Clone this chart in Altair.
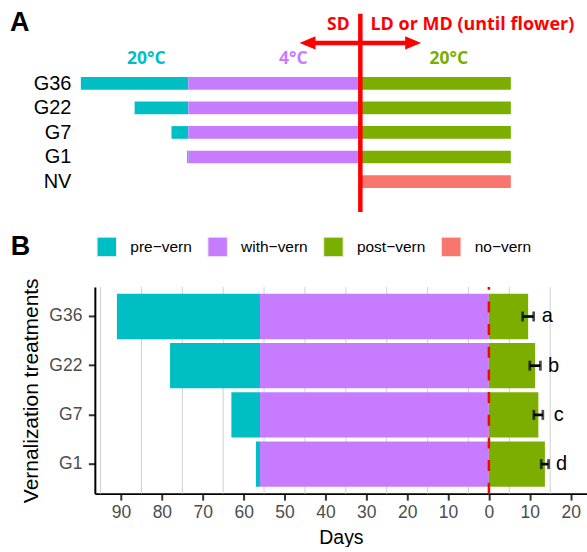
import json
import altair as alt
import pandas as pd

# ---------------- data ----------------
# Panel A (schematic of the treatments)
a_rows = ["G36", "G22", "G7", "G1", "NV"]
a_pre = [35, 17.5, 5.5, 0.4, 0]      # schematic pre-vernalization length
a_vern = [56, 56, 56, 56, 0]         # cold period
a_post = [49, 49, 49, 49, 0]         # warm period after cold
a_novern = [0, 0, 0, 0, 49]          # no vernalization

# Panel B (measured days)
b_trt = ["G36", "G22", "G7", "G1"]
b_pre = [35, 22, 7, 1]
b_vern = [56, 56, 56, 56]
b_post = [9.6, 11.3, 12.1, 13.7]
b_err = [1.35, 1.3, 1.1, 0.9]
b_letters = ["a", "b", "c", "d"]
b_letter_x = [14.3, 15.8, 17.1, 17.8]

phases = ["pre\u2212vern", "with\u2212vern", "post\u2212vern", "no\u2212vern"]
phase_colors = ["#00BFC4", "#C77CFF", "#7CAE00", "#F8766D"]

x_ticks = [-90, -80, -70, -60, -50, -40, -30, -20, -10, 0, 10, 20]
x_minor_grid = [-95, -85, -75, -65, -55, -45, -35, -25, -15, -5, 5, 15]

# annotations of panel A (schematic units)
a_note_text = ["SD", "20\u00b0C", "4\u00b0C", "20\u00b0C"]
a_note_x = [-7.15, -69.7, -21.8, 28.8]
a_note_y = [-2.39, -0.976, -0.976, -0.976]
a_note_color = ["#FF0000", "#00BFC4", "#C77CFF", "#7CAE00"]
a_note_left_text = ["LD or MD (until flower)"]
a_note_left_x = [3.3]
a_note_left_y = [-2.39]
a_arrow_x = [-17.2, 17.2]
a_arrow_y = -1.646
a_line_y = [-2.833, 5.244]

FONT = "Liberation Sans"
BOLD = "Open Sans"
RED = "#FF0000"

# ---------------- panel A ----------------
seg = []
for i, r in enumerate(a_rows):
    if a_pre[i] > 0:
        seg.append(dict(y=i, x=-(a_vern[i] + a_pre[i]), x2=-a_vern[i], col=phase_colors[0]))
    if a_vern[i] > 0:
        seg.append(dict(y=i, x=-a_vern[i], x2=0, col=phase_colors[1]))
    if a_post[i] > 0:
        seg.append(dict(y=i, x=0, x2=a_post[i], col=phase_colors[2]))
    if a_novern[i] > 0:
        seg.append(dict(y=i, x=0, x2=a_novern[i], col=phase_colors[3]))
seg_a = pd.DataFrame(seg)

xa = alt.X("x:Q", scale=alt.Scale(domain=[-86.45, 73.8], nice=False, zero=False), axis=None)
ya = alt.Y(
    "y:Q",
    scale=alt.Scale(domain=[-3.374, 5.244], reverse=True, nice=False, zero=False),
    axis=alt.Axis(
        values=list(range(len(a_rows))),
        labelExpr=json.dumps(a_rows) + "[datum.value]",
        title=None, domain=False, ticks=False, grid=False,
        labelPadding=24, labelFontSize=20, labelColor="black", labelFont=FONT,
    ),
)

bars_a = alt.Chart(seg_a).mark_rule(strokeWidth=12.7, strokeCap="butt").encode(
    x=xa, x2="x2:Q", y=ya, color=alt.Color("col:N", scale=None)
)
vline_a = alt.Chart(pd.DataFrame({"x": [0], "y": [a_line_y[0]], "y2": [a_line_y[1]]})).mark_rule(
    color=RED, strokeWidth=4.5
).encode(x=xa, y=ya, y2="y2:Q")
shaft_a = alt.Chart(pd.DataFrame({"x": [a_arrow_x[0]], "x2": [a_arrow_x[1]], "y": [a_arrow_y]})).mark_rule(
    color=RED, strokeWidth=4.5
).encode(x=xa, x2="x2:Q", y=ya)
head_l = alt.Chart(pd.DataFrame({"x": [a_arrow_x[0]], "y": [a_arrow_y]})).mark_point(
    shape="M-1,0L1,-0.83L1,0.83Z", filled=True, size=256, color=RED, opacity=1, strokeWidth=0
).encode(x=xa, y=ya)
head_r = alt.Chart(pd.DataFrame({"x": [a_arrow_x[1]], "y": [a_arrow_y]})).mark_point(
    shape="M1,0L-1,-0.83L-1,0.83Z", filled=True, size=256, color=RED, opacity=1, strokeWidth=0
).encode(x=xa, y=ya)
notes_c = alt.Chart(pd.DataFrame({"x": a_note_x, "y": a_note_y, "t": a_note_text, "col": a_note_color})).mark_text(
    font=BOLD, fontWeight="bold", fontSize=17.5, align="center", baseline="middle"
).encode(x=xa, y=ya, text="t:N", color=alt.Color("col:N", scale=None))
notes_l = alt.Chart(pd.DataFrame({"x": a_note_left_x, "y": a_note_left_y, "t": a_note_left_text})).mark_text(
    font=BOLD, fontWeight="bold", fontSize=18, align="left", baseline="middle", color=RED
).encode(x=xa, y=ya, text="t:N")
letter_a = alt.Chart(pd.DataFrame({"x": [-114.1], "y": [-2.46], "t": ["A"]})).mark_text(
    font=FONT, fontWeight="bold", fontSize=27, align="left", baseline="middle", color="black"
).encode(x=xa, y=ya, text="t:N")

panel_a = alt.layer(bars_a, vline_a, shaft_a, head_l, head_r, notes_c, notes_l, letter_a).properties(
    width=493, height=212
)

# ---------------- panel B ----------------
rows_b = []
for i, t in enumerate(b_trt):
    rows_b.append(dict(trt=t, phase=phases[0], x=-(b_vern[i] + b_pre[i]), x2=-b_vern[i]))
    rows_b.append(dict(trt=t, phase=phases[1], x=-b_vern[i], x2=0))
    rows_b.append(dict(trt=t, phase=phases[2], x=0, x2=b_post[i]))
seg_b = pd.DataFrame(rows_b)

err_b = pd.DataFrame({
    "trt": b_trt,
    "x": [p - e for p, e in zip(b_post, b_err)],
    "x2": [p + e for p, e in zip(b_post, b_err)],
})
caps_b = pd.DataFrame({
    "trt": b_trt + b_trt,
    "x": [p - e for p, e in zip(b_post, b_err)] + [p + e for p, e in zip(b_post, b_err)],
})
let_b = pd.DataFrame({"trt": b_trt, "x": b_letter_x, "t": b_letters})

xb = alt.X(
    "x:Q",
    scale=alt.Scale(domain=[-96.4, 24], nice=False, zero=False),
    axis=alt.Axis(
        values=x_ticks, labelExpr="abs(datum.value)", title="Days", grid=False,
        labelFlush=False, labelOverlap=False,
        labelFontSize=17.5, labelColor="#4D4D4D", labelFont=FONT, labelPadding=3.5,
        tickSize=6.5, tickWidth=2, tickColor="#333333",
        domainColor="black", domainWidth=2,
        titleFontSize=19.5, titleFont=FONT, titleFontWeight="normal", titleColor="black", titlePadding=7,
    ),
)
yb = alt.Y(
    "trt:N", sort=b_trt,
    scale=alt.Scale(paddingInner=0.08, paddingOuter=0.14),
    axis=alt.Axis(
        title="Vernalization treatments", grid=False,
        labelFontSize=17.5, labelColor="#4D4D4D", labelFont=FONT, labelPadding=6.5,
        tickSize=6.5, tickWidth=2, tickColor="#333333",
        domainColor="black", domainWidth=2,
        titleFontSize=21, titleFont=FONT, titleFontWeight="normal", titleColor="black", titlePadding=7,
    ),
)

grid_b = alt.Chart(pd.DataFrame({"x": x_minor_grid})).mark_rule(color="#D0D0D0", strokeWidth=1).encode(x=xb)
bars_b = alt.Chart(seg_b).mark_bar().encode(
    x=xb, x2="x2:Q", y=yb,
    color=alt.Color(
        "phase:N",
        scale=alt.Scale(domain=phases, range=phase_colors),
        legend=alt.Legend(
            title="B", titleOrient="left", titleFontSize=27, titleFont=FONT, titleFontWeight="bold",
            titleColor="black", titlePadding=65.8,
            orient="none", legendX=-84.3, legendY=-51, direction="horizontal",
            symbolType="square", symbolSize=380, symbolStrokeColor="#EBEBEB", symbolStrokeWidth=1,
            symbolOpacity=1, labelFontSize=15.5, labelFont=FONT, labelColor="black",
            labelOffset=13, columnPadding=13, padding=0,
        ),
    ),
)
zero_b = alt.Chart(pd.DataFrame({"x": [0]})).mark_rule(
    color=RED, strokeWidth=2.5, strokeDash=[11, 11.7], strokeDashOffset=8.2
).encode(x=xb)
errl_b = alt.Chart(err_b).mark_rule(color="black", strokeWidth=2.7).encode(x=xb, x2="x2:Q", y=yb)
errc_b = alt.Chart(caps_b).mark_tick(color="black", thickness=2.7, size=10, orient="vertical").encode(x=xb, y=yb)
text_b = alt.Chart(let_b).mark_text(fontSize=20, font=FONT, align="center", baseline="middle", color="black").encode(
    x=xb, y=yb, text="t:N"
)

panel_b = alt.layer(grid_b, bars_b, zero_b, errl_b, errc_b, text_b).properties(width=493, height=207)

chart = (
    alt.vconcat(panel_a, panel_b, spacing=21)
    .resolve_scale(x="independent", y="independent", color="independent")
    .properties(padding={"left": 9, "top": 0, "right": 0, "bottom": 0})
    .configure(font=FONT)
    .configure_view(strokeWidth=0)
)

chart.save("out.html", embed_options={"renderer": "svg", "actions": False})
